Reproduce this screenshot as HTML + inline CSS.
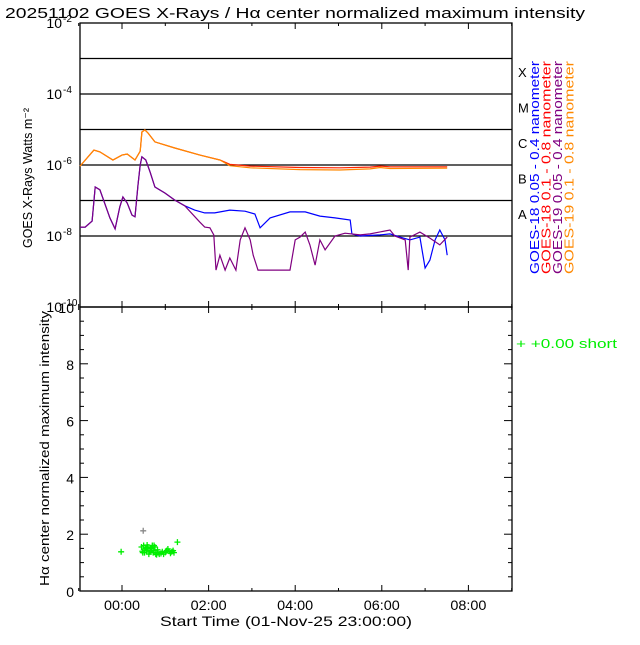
<!DOCTYPE html>
<html><head><meta charset="utf-8"><style>
body{margin:0;background:#fff}
svg text{font-family:"Liberation Sans",sans-serif}
</style></head><body>
<svg id="c" width="640" height="640" viewBox="0 0 640 640">
<text x="5" y="18" font-size="15" fill="#000" textLength="580" lengthAdjust="spacingAndGlyphs">20251102 GOES X-Rays / Hα center normalized maximum intensity</text>
<g id="g"></g>
</svg>
<script>
const xTickLabels=["00:00","02:00","04:00","06:00","08:00"];
const xTickHours=[0,2,4,6,8];
const topTickExp=[-2,-4,-6,-8,-10];
const classLetters=["X","M","C","B","A"];
const classExp=[-4,-5,-6,-7,-8];
const bottomTicks=[0,2,4,6,8,10];
// orange GOES-19 long [hour, log10 flux]
const longT=[-0.97,-0.65,-0.51,-0.21,0,0.12,0.30,0.42,0.46,0.53,0.60,0.76,1.22,1.80,2.26,2.49,2.96,4.11,5.03,5.73,5.96,6.19,7.51];
const longV=[-6.03,-5.58,-5.63,-5.86,-5.72,-5.69,-5.86,-5.61,-5.07,-5.01,-5.10,-5.35,-5.52,-5.72,-5.86,-6.02,-6.08,-6.13,-6.14,-6.11,-6.07,-6.10,-6.09];
const longRedV=[-6.03,-5.58,-5.63,-5.86,-5.72,-5.69,-5.86,-5.61,-5.07,-5.01,-5.10,-5.35,-5.52,-5.72,-5.86,-5.98,-6.03,-6.07,-6.08,-6.06,-6.03,-6.05,-6.05];
// blue GOES-18 short
const shortT=[-0.97,-0.85,-0.69,-0.62,-0.51,-0.28,-0.16,-0.05,0.02,0.12,0.23,0.30,0.37,0.42,0.46,0.55,0.65,0.76,0.99,1.22,1.45,1.68,1.91,2.14,2.49,2.84,3.07,3.19,3.42,3.88,4.23,4.57,4.92,5.27,5.31,5.50,5.96,6.19,6.42,6.65,6.88,7.00,7.11,7.23,7.34,7.46,7.51];
const shortV=[-7.75,-7.75,-7.58,-6.62,-6.70,-7.49,-7.80,-7.18,-6.90,-7.07,-7.41,-7.46,-6.56,-6.00,-5.77,-5.86,-6.20,-6.62,-6.79,-6.99,-7.15,-7.27,-7.35,-7.35,-7.27,-7.30,-7.38,-7.77,-7.49,-7.32,-7.32,-7.44,-7.49,-7.55,-7.94,-8.00,-7.97,-7.94,-8.03,-8.11,-8.03,-8.90,-8.68,-8.11,-7.83,-8.11,-8.54];
// purple GOES-19 short
const short19T=[-0.97,-0.85,-0.69,-0.62,-0.51,-0.28,-0.16,-0.05,0.02,0.12,0.23,0.30,0.37,0.42,0.46,0.55,0.65,0.76,0.99,1.22,1.45,1.80,1.91,2.03,2.12,2.17,2.26,2.38,2.49,2.63,2.73,2.84,2.96,3.03,3.14,3.88,4.00,4.11,4.23,4.34,4.46,4.57,4.69,4.92,5.15,5.50,5.73,6.19,6.30,6.54,6.61,6.65,6.88,7.11,7.34,7.51];
const short19V=[-7.75,-7.75,-7.58,-6.62,-6.70,-7.49,-7.80,-7.18,-6.90,-7.07,-7.41,-7.46,-6.56,-6.00,-5.77,-5.86,-6.20,-6.62,-6.79,-6.99,-7.15,-7.61,-7.75,-7.77,-7.97,-8.96,-8.54,-8.96,-8.62,-8.96,-8.11,-7.77,-8.11,-8.54,-8.96,-8.96,-8.11,-8.03,-7.89,-8.25,-8.82,-8.11,-8.39,-8.00,-7.92,-7.97,-7.94,-7.83,-8.00,-8.11,-8.96,-8.03,-7.89,-8.06,-8.25,-8.03];
// Hα points
const haT=[-0.02,0.53,0.48,1.28,0.45,0.47,0.5,0.52,0.55,0.57,0.6,0.62,0.65,0.68,0.7,0.72,0.74,0.76,0.78,0.8,0.83,0.86,0.9,0.93,0.96,1.0,1.03,1.06,1.09,1.12,1.15,1.18,1.2,0.58,0.66,0.74,0.82];
const haV=[1.38,1.45,1.35,1.72,1.55,1.4,1.6,1.35,1.5,1.42,1.55,1.3,1.38,1.48,1.6,1.35,1.42,1.55,1.3,1.28,1.35,1.3,1.32,1.38,1.3,1.36,1.42,1.48,1.4,1.33,1.38,1.42,1.35,1.62,1.52,1.6,1.45];
const haGrayT=[0.49];const haGrayV=[2.12];

const L=80,R=512,T1=23,B1=307,B2=591;
const X=h=>L+(h+0.97)*43.3;
const Y1=e=>T1+(-2-e)*(B1-T1)/8;
const Y2=v=>B2-v*(B2-B1)/10;
const g=document.getElementById('g');
const NS='http://www.w3.org/2000/svg';
function el(tag,a,txt){const e=document.createElementNS(NS,tag);for(const k in a)e.setAttribute(k,a[k]);if(txt!==undefined)e.textContent=txt;g.appendChild(e);return e;}

let e;
e=el('rect',{x:L,y:T1,width:R-L,height:B1-T1,fill:'none',stroke:'#000','stroke-width':1.3});

e=el('rect',{x:L,y:B1,width:R-L,height:B2-B1,fill:'none',stroke:'#000','stroke-width':1.3});

for(let k=-3;k>=-8;k--){e=el('line',{x1:L,x2:R,y1:Y1(k),y2:Y1(k),stroke:'#000','stroke-width':1.3});
}
topTickExp.forEach(k=>{e=el('text',{x:62,y:Y1(k)+5,'font-size':14,'text-anchor':'end'},'10');

const s=el('text',{x:63,y:Y1(k)-1,'font-size':10},String(k));});
classLetters.forEach((c,i)=>{e=el('text',{x:518,y:Y1(classExp[i])-17,'font-size':13},c);
});
for(let h=-1;h<=9;h++){const x=X(h);const m=h%2===0;const len=m?6:3;
[[B1,-1],[T1,1],[B2,-1],[B1,1]].forEach(([y,d])=>{e=el('line',{x1:x,x2:x,y1:y,y2:y+d*len,stroke:'#000'});});}
xTickHours.forEach((h,i)=>{e=el('text',{x:X(h),y:610,'font-size':14,'text-anchor':'middle',textLength:36,lengthAdjust:'spacingAndGlyphs'},xTickLabels[i]);
});
e=el('text',{x:160,y:626,'font-size':14,textLength:252,lengthAdjust:'spacingAndGlyphs'},'Start Time (01-Nov-25 23:00:00)');

for(let v=0;v<=10;v+=0.5){const y=Y2(v);const len=(v%2===0)?8:4;
e=el('line',{x1:L,x2:L+len,y1:y,y2:y,stroke:'#000'});
e=el('line',{x1:R,x2:R-len,y1:y,y2:y,stroke:'#000'});}
bottomTicks.forEach(v=>{e=el('text',{x:74,y:Y2(v)+6,'font-size':14,'text-anchor':'end'},String(v));
});
e=el('text',{x:0,y:0,'font-size':13,textLength:140,lengthAdjust:'spacingAndGlyphs',transform:'translate(32,248) rotate(-90)'},'GOES X-Rays Watts m⁻²');

e=el('text',{x:0,y:0,'font-size':13,textLength:275,lengthAdjust:'spacingAndGlyphs',transform:'translate(49,586) rotate(-90)'},'Hα center normalized maximum intensity');

function line(ts,vs,c,name){const d=ts.map((t,i)=>(i?'L':'M')+X(t).toFixed(1)+','+Y1(vs[i]).toFixed(1)).join('');
const p=el('path',{d:d,fill:'none',stroke:c,'stroke-width':1.2});}
line(shortT,shortV,'#0000ff','goes18-short-line');
line(short19T,short19V,'#800080','goes19-short-line');
line(longT,longRedV,'#ff2200','goes18-long-line');
line(longT,longV,'#ff8800','goes19-long-line');
function plus(t,v,c){const x=X(t),y=Y2(v);const p=el('path',{d:`M${x-3},${y}H${x+3}M${x},${y-3}V${y+3}`,stroke:c,'stroke-width':1.3});
}
haT.forEach((t,i)=>plus(t,haV[i],'#00ee00'));
haGrayT.forEach((t,i)=>plus(t,haGrayV[i],'#888'));
const leg=[['GOES-18 0.05 - 0.4 nanometer','#0000ff'],['GOES-18 0.1 - 0.8 nanometer','#ff0000'],['GOES-19 0.05 - 0.4 nanometer','#800080'],['GOES-19 0.1 - 0.8 nanometer','#ff8800']];
leg.forEach((l,i)=>{e=el('text',{x:0,y:0,'font-size':13,fill:l[1],textLength:213,lengthAdjust:'spacingAndGlyphs',transform:`translate(${539+i*11.5},274) rotate(-90)`},l[0]);
});
e=el('text',{x:516,y:348,'font-size':13,fill:'#00ee00',textLength:101,lengthAdjust:'spacingAndGlyphs'},'+  +0.00 short');

</script>
</body></html>
